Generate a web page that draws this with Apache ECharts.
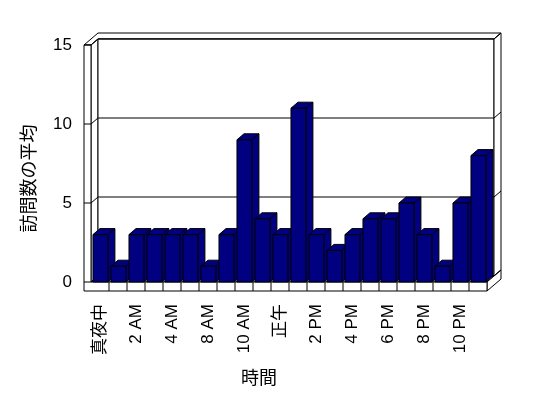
<!DOCTYPE html>
<html>
<head>
<meta charset="utf-8">
<script src="https://cdn.jsdelivr.net/npm/echarts@6/dist/echarts.min.js"></script>
<style>
  html, body { margin: 0; padding: 0; background: #fff; }
  #chart { width: 548px; height: 398px; }
</style>
</head>
<body>
<div id="chart"></div>
<script>
// data
const hours = ['真夜中', '1 AM', '2 AM', '3 AM', '4 AM', '7 AM', '8 AM', '9 AM', '10 AM', '11 AM', '正午',
    '1 PM', '2 PM', '3 PM', '4 PM', '5 PM', '6 PM', '7 PM', '8 PM', '9 PM', '10 PM', '11 PM'];
const visits = [3, 1, 3, 3, 3, 3, 1, 3, 9, 4, 3, 11, 3, 2, 3, 4, 4, 5, 3, 1, 5, 8];
const yTicks = [0, 5, 10, 15];

// 3d look
const DX = 7, DY = -6;       // depth offset
const WALL = 7;              // left wall thickness
const FLOOR = 9;             // floor thickness
const NAVY = '#000080';
const line = { fill: '#fff', stroke: '#000', lineWidth: 1 };

const chart = echarts.init(document.getElementById('chart'));

// corners of the front plane, from the axes
const plane = (api) => {
    const bw = api.size([1, 0])[0];
    const p0 = api.coord([0, 0]);
    const p1 = api.coord([hours.length - 1, yTicks[yTicks.length - 1]]);
    return { bw: bw, xl: p0[0] - bw / 2, xr: p1[0] + bw / 2, y0: p0[1], yt: p1[1] };
};

const poly = (pts, style) => ({ type: 'polygon', shape: { points: pts }, style: style });
const seg = (x1, y1, x2, y2) => ({
    type: 'line', shape: { x1: x1, y1: y1, x2: x2, y2: y2 }, style: { stroke: '#000', lineWidth: 1 }
});

// walls and floor
const renderFrame = (params, api) => {
    const p = plane(api);
    const xo = p.xl - WALL, yb = p.y0 + FLOOR;
    const kids = [
        // top of walls
        poly([[xo, p.yt], [xo + 2 * DX, p.yt + 2 * DY], [p.xr + 2 * DX, p.yt + 2 * DY],
            [p.xr + DX, p.yt + DY], [p.xl + DX, p.yt + DY], [p.xl, p.yt]], line),
        // left wall inner face
        poly([[p.xl, p.yt], [p.xl + DX, p.yt + DY], [p.xl + DX, p.y0 + DY], [p.xl, p.y0]], line),
        // back wall
        poly([[p.xl + DX, p.yt + DY], [p.xr + DX, p.yt + DY], [p.xr + DX, p.y0 + DY], [p.xl + DX, p.y0 + DY]], line),
        // back wall right side
        poly([[p.xr + DX, p.yt + DY], [p.xr + 2 * DX, p.yt + 2 * DY], [p.xr + 2 * DX, p.y0 + 2 * DY], [p.xr + DX, p.y0 + DY]], line),
        // floor top
        poly([[p.xl, p.y0], [p.xr, p.y0], [p.xr + DX, p.y0 + DY], [p.xl + DX, p.y0 + DY]], line),
        // floor right side
        poly([[p.xr, p.y0], [p.xr + 2 * DX, p.y0 + 2 * DY], [p.xr + 2 * DX, yb + 2 * DY], [p.xr, yb]], line),
        // left wall + floor front
        poly([[xo, p.yt], [p.xl, p.yt], [p.xl, p.y0], [p.xr, p.y0], [p.xr, yb], [xo, yb]], line)
    ];
    for (let i = 1; i < hours.length; i++) {
        const x = p.xl + i * p.bw;
        kids.push(seg(x, p.y0, x, yb));
    }
    return { type: 'group', children: kids };
};

// grid lines wrapping the walls
const renderGrid = (params, api) => {
    const p = plane(api);
    const y = api.coord([0, api.value(0)])[1];
    return {
        type: 'group',
        children: [
            seg(p.xl - WALL, y, p.xl, y),
            seg(p.xl, y, p.xl + DX, y + DY),
            seg(p.xl + DX, y + DY, p.xr + DX, y + DY),
            seg(p.xr + DX, y + DY, p.xr + 2 * DX, y + 2 * DY)
        ]
    };
};

// 3d bars
const renderBar = (params, api) => {
    const bw = api.size([1, 0])[0];
    const top = api.coord([api.value(0), api.value(1)]);
    const base = api.coord([api.value(0), 0]);
    const x0 = top[0] - bw / 2 + bw * 0.11;
    const w = bw * 0.83;
    const yt = top[1], yb = base[1];
    const st = { fill: NAVY, stroke: '#000', lineWidth: 1 };
    return {
        type: 'group',
        children: [
            poly([[x0, yt], [x0 + w, yt], [x0 + w + DX, yt + DY], [x0 + DX, yt + DY]], st),
            poly([[x0 + w, yt], [x0 + w + DX, yt + DY], [x0 + w + DX, yb + DY], [x0 + w, yb]], st),
            poly([[x0, yt], [x0 + w, yt], [x0 + w, yb], [x0, yb]], st)
        ]
    };
};

chart.setOption({
    animation: false,
    backgroundColor: '#fff',
    grid: { left: 91, right: 61, top: 45, bottom: 116 },
    xAxis: {
        type: 'category',
        data: hours,
        name: '時間',
        nameLocation: 'middle',
        nameGap: 86,
        nameTextStyle: { color: '#000', fontSize: 18, fontFamily: 'Noto Sans CJK JP', padding: [0, 60, 0, 0] },
        axisLine: { show: false },
        axisTick: { show: false },
        axisLabel: {
            interval: 1,
            rotate: 90,
            margin: 22,
            color: '#000',
            fontSize: 17,
            fontFamily: 'Liberation Sans, Noto Sans CJK JP'
        }
    },
    yAxis: {
        type: 'value',
        min: 0,
        max: 15,
        interval: 5,
        name: '訪問数の平均',
        nameLocation: 'middle',
        nameGap: 54,
        nameRotate: 90,
        nameTextStyle: { color: '#000', fontSize: 18, fontFamily: 'Noto Sans CJK JP', padding: [0, 30, 0, 0] },
        axisLine: { show: false },
        axisTick: { show: false },
        splitLine: { show: false },
        axisLabel: { margin: 19, color: '#000', fontSize: 17, fontFamily: 'Liberation Sans' }
    },
    series: [
        { type: 'custom', z: 1, silent: true, data: [0], renderItem: renderFrame },
        { type: 'custom', z: 2, silent: true, data: yTicks, encode: { y: 0 }, renderItem: renderGrid },
        {
            type: 'custom', z: 3,
            data: visits.map((v, i) => [i, v]),
            encode: { x: 0, y: 1 },
            renderItem: renderBar
        }
    ]
});
</script>
</body>
</html>
